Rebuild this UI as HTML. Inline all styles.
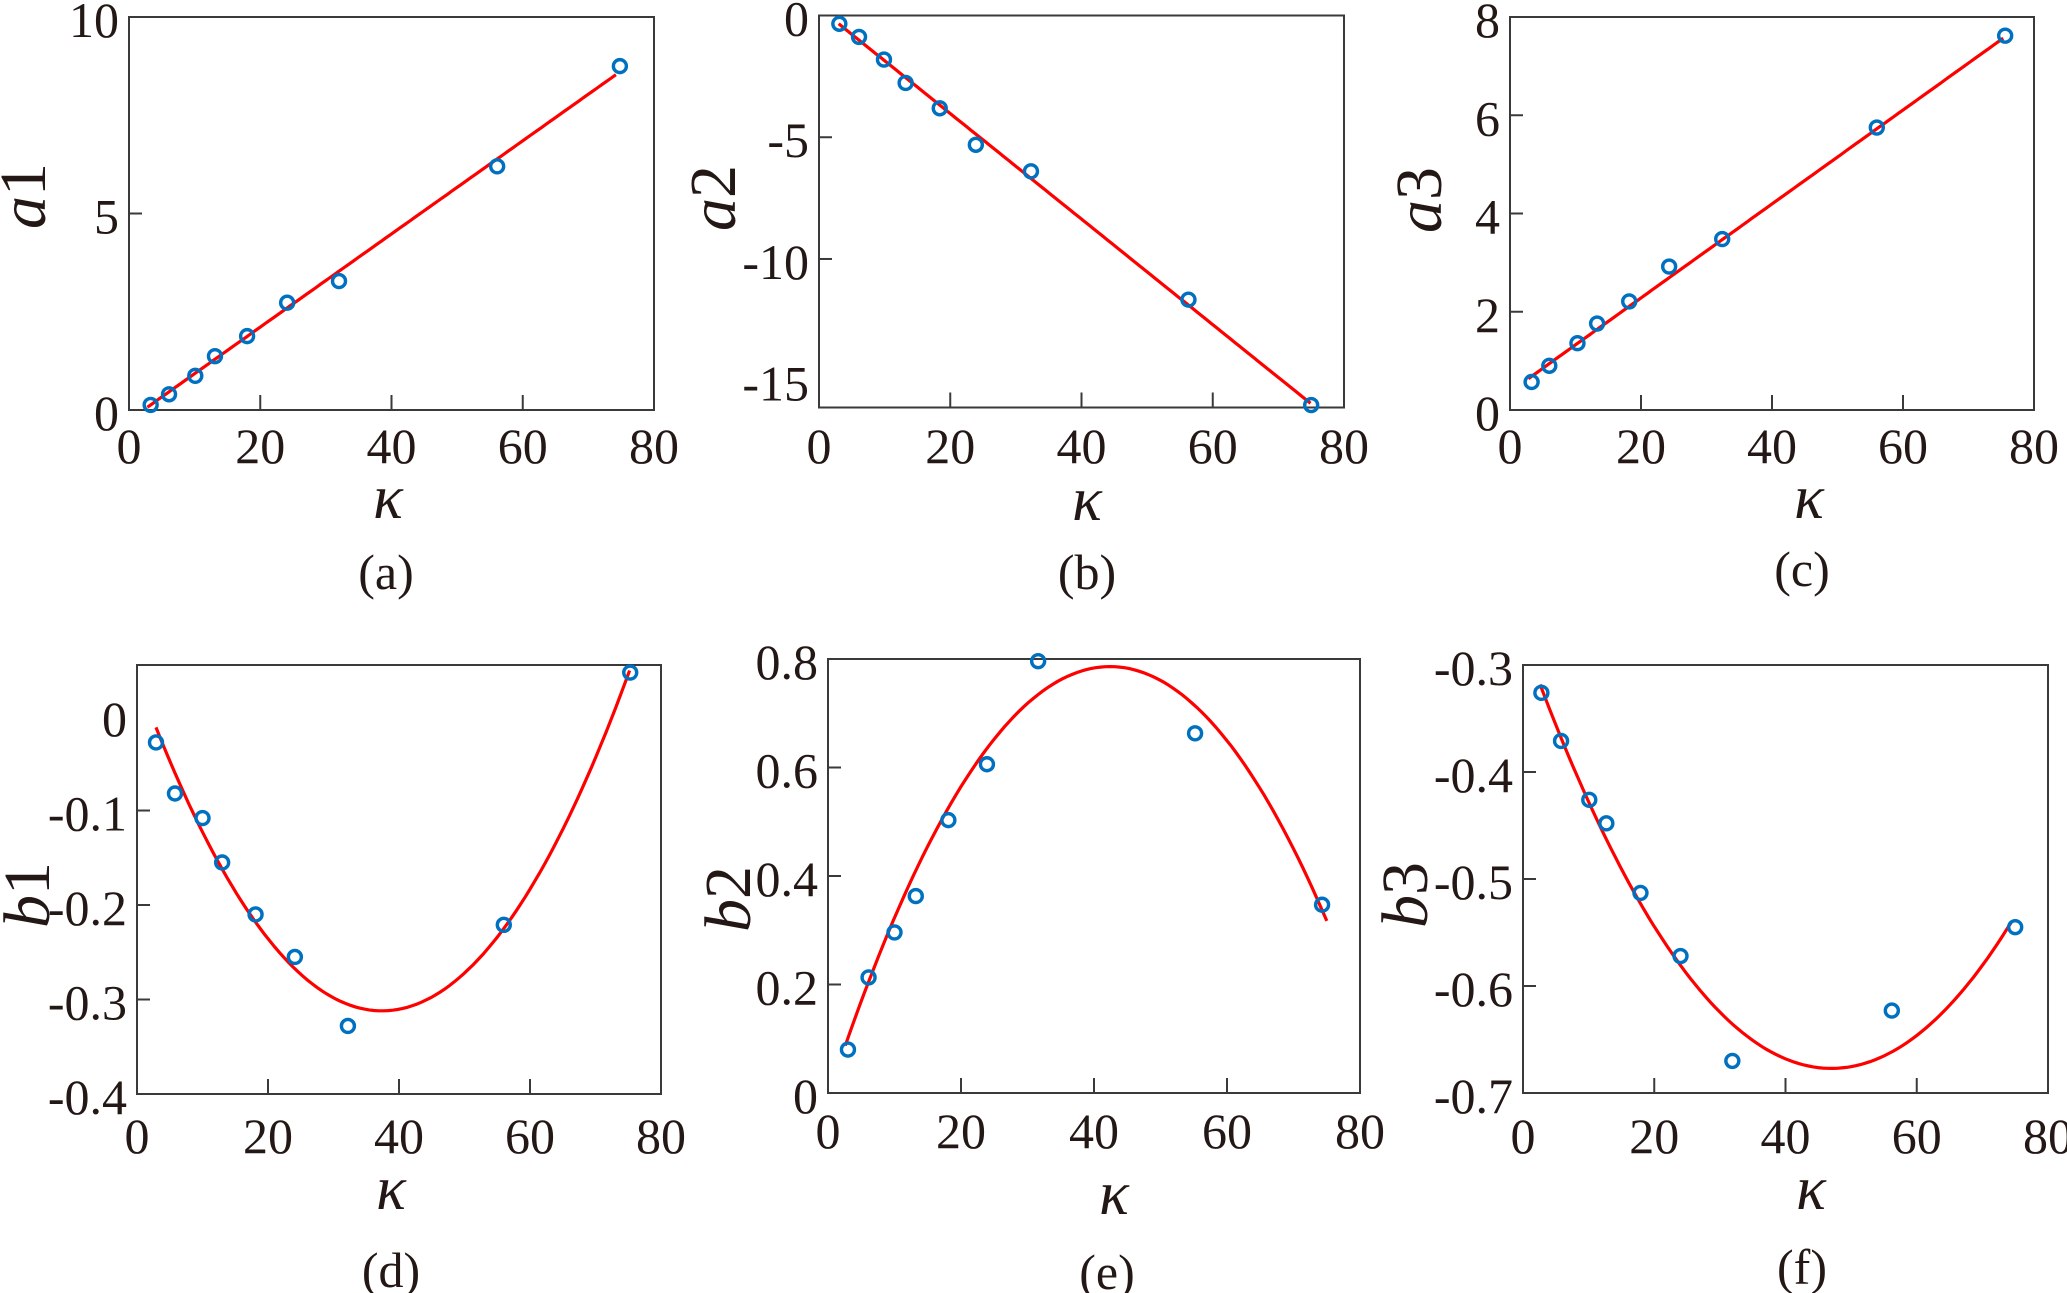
<!DOCTYPE html>
<html><head><meta charset="utf-8"><style>
html,body{margin:0;padding:0;background:#fff;}
svg{display:block;}
text{font-family:"Liberation Serif",serif;fill:#231815;}
</style></head><body>
<svg id="fig" width="2067" height="1293" viewBox="0 0 2067 1293" xmlns="http://www.w3.org/2000/svg"></svg>
<script>
const kappaA1 = [3.3, 6.1, 10.1, 13.1, 18.0, 24.1, 32.0, 56.1, 74.8];
const valuesA1 = [0.13, 0.40, 0.87, 1.37, 1.88, 2.73, 3.28, 6.2, 8.75];
const fitA1 = [-0.26, 0.1185];
const kappaA2 = [3.1, 6.1, 9.9, 13.2, 18.4, 23.9, 32.3, 56.3, 75.0];
const valuesA2 = [-0.34, -0.88, -1.81, -2.77, -3.81, -5.31, -6.40, -11.67, -16.0];
const fitA2 = [0.31, -0.2168];
const kappaA3 = [3.3, 6.0, 10.3, 13.3, 18.2, 24.3, 32.4, 56.0, 75.6];
const valuesA3 = [0.57, 0.90, 1.36, 1.76, 2.21, 2.92, 3.48, 5.75, 7.62];
const fitA3 = [0.37, 0.0956];
const kappaB1 = [2.9, 5.8, 10.0, 13.0, 18.1, 24.1, 32.2, 56.0, 75.3];
const valuesB1 = [-0.028, -0.082, -0.108, -0.155, -0.210, -0.255, -0.328, -0.221, 0.046];
const fitB1 = [-0.312, 37.4, 0.000252];
const kappaB2 = [3.0, 6.1, 10.0, 13.2, 18.1, 23.9, 31.6, 55.2, 74.3];
const valuesB2 = [0.080, 0.213, 0.296, 0.363, 0.503, 0.606, 0.796, 0.663, 0.347];
const fitB2 = [0.786, 42.4, -0.000441];
const kappaB3 = [2.8, 5.8, 10.1, 12.7, 17.9, 24.0, 31.9, 56.2, 75.0];
const valuesB3 = [-0.326, -0.371, -0.426, -0.448, -0.513, -0.572, -0.670, -0.623, -0.545];
const fitB3 = [-0.677, 47.0, 0.000182];
const fitRangeA1 = [2.8, 74.2];
const fitRangeA2 = [3.0, 74.9];
const fitRangeA3 = [2.8, 75.3];
const fitRangeB1 = [2.9, 75.2];
const fitRangeB2 = [2.6, 75.0];
const fitRangeB3 = [2.6, 74.4];
const xTickLabels = ["0", "20", "40", "60", "80"];
const yTicksA1 = [0, 5, 10];
const yTicksA2 = [0, -5, -10, -15];
const yTicksA3 = [0, 2, 4, 6, 8];
const yTicksB1 = [0, -0.1, -0.2, -0.3, -0.4];
const yTicksB2 = [0, 0.2, 0.4, 0.6, 0.8];
const yTicksB3 = [-0.3, -0.4, -0.5, -0.6, -0.7];

const NS = "http://www.w3.org/2000/svg";
const svg = document.getElementById("fig");
function mk(tag, attrs, parent) {
  const e = document.createElementNS(NS, tag);
  for (const k in attrs) e.setAttribute(k, attrs[k]);
  (parent || svg).appendChild(e);
  return e;
}
const panels = [
  {id:"a", L:129, T:17, R:654, B:410, ymin:0, ymax:10, yt:yTicksA1, inner:[5], xs:kappaA1, ys:valuesA1, fit:fitA1, type:"lin", fr:fitRangeA1, lab:"a", sub:"1", lx:-104, ly:196, kx:388, ky:498, px:386, py:572, xly:446},
  {id:"b", L:819, T:15.5, R:1344, B:407.5, ymin:-16.1, ymax:0, yt:yTicksA2, inner:[-5,-10], xs:kappaA2, ys:valuesA2, fit:fitA2, type:"lin", fr:fitRangeA2, lab:"a", sub:"2", lx:-104, ly:198, kx:1087, ky:500, px:1087, py:572, xly:446},
  {id:"c", L:1510, T:17, R:2034, B:410, ymin:0, ymax:8, yt:yTicksA3, inner:[2,4,6], xs:kappaA3, ys:valuesA3, fit:fitA3, type:"lin", fr:fitRangeA3, lab:"a", sub:"3", lx:-89, ly:200, kx:1809, ky:498, px:1802, py:569, xly:446},
  {id:"d", L:137, T:665, R:661, B:1094, ymin:-0.4, ymax:0.054, yt:yTicksB1, inner:[-0.1,-0.2,-0.3], xs:kappaB1, ys:valuesB1, fit:fitB1, type:"quad", fr:fitRangeB1, lab:"b", sub:"1", lx:-108, ly:895, kx:391, ky:1189, px:391, py:1270, xly:1136},
  {id:"e", L:828, T:659, R:1360, B:1093, ymin:0, ymax:0.8, yt:yTicksB2, inner:[0.2,0.4,0.6], xs:kappaB2, ys:valuesB2, fit:fitB2, type:"quad", fr:fitRangeB2, lab:"b", sub:"2", lx:-98, ly:899, kx:1114, ky:1194, px:1107, py:1272, xly:1131},
  {id:"f", L:1523, T:665, R:2048, B:1093, ymin:-0.7, ymax:-0.3, yt:yTicksB3, inner:[-0.4,-0.5,-0.6], xs:kappaB3, ys:valuesB3, fit:fitB3, type:"quad", fr:fitRangeB3, lab:"b", sub:"3", lx:-116, ly:895, kx:1811, ky:1189, px:1802, py:1267, xly:1136}
];
panels.forEach(p => {
  const g = mk("g", {});
  
  
  const X = v => p.L + (v - 0) / 80 * (p.R - p.L);
  const Y = v => p.B - (v - p.ymin) / (p.ymax - p.ymin) * (p.B - p.T);
  const box = mk("rect", {x:p.L, y:p.T, width:p.R-p.L, height:p.B-p.T, fill:"none", stroke:"#3a3a3a", "stroke-width":2}, g);
  
  
  [20,40,60].forEach(t => {
    const tk = mk("line", {x1:X(t), x2:X(t), y1:p.B, y2:p.B-15, stroke:"#3a3a3a", "stroke-width":2}, g);
    
    
  });
  p.inner.forEach(t => {
    const tk = mk("line", {x1:p.L, x2:p.L+13, y1:Y(t), y2:Y(t), stroke:"#3a3a3a", "stroke-width":2}, g);
    
    
  });
  xTickLabels.forEach(s => {
    const t = mk("text", {x:X(+s), y:p.xly+17, "font-size":50, "text-anchor":"middle"}, g);
    t.textContent = s;
    
    
  });
  p.yt.forEach(v => {
    const t = mk("text", {x:p.L-10, y:Y(v)+20, "font-size":50, "text-anchor":"end"}, g);
    t.textContent = String(v);
    
    
  });
  const f = x => p.type === "lin" ? p.fit[0] + p.fit[1]*x : p.fit[0] + p.fit[2]*(x-p.fit[1])*(x-p.fit[1]);
  let d = "";
  for (let i = 0; i <= 100; i++) {
    const x = p.fr[0] + (p.fr[1]-p.fr[0]) * i / 100;
    d += (i ? "L" : "M") + X(x).toFixed(1) + "," + Y(f(x)).toFixed(1);
  }
  const path = mk("path", {d:d, fill:"none", stroke:"#ff0000", "stroke-width":3.2}, g);
  
  
  p.xs.forEach((x, i) => {
    const c = mk("circle", {cx:X(x), cy:Y(p.ys[i]), r:6.5, fill:"none", stroke:"#0070c0", "stroke-width":3.4}, g);
    
    
  });
  const yl = mk("text", {x:0, y:0, "font-size":66, "text-anchor":"middle", transform:"translate(" + (p.L+p.lx+20) + "," + p.ly + ") rotate(-90)"}, g);
  
  
  const ts1 = mk("tspan", {"font-style":"italic"}, yl); ts1.textContent = p.lab;
  const ts2 = mk("tspan", {}, yl); ts2.textContent = p.sub;
  const kl = mk("text", {x:p.kx, y:p.ky+20, "font-size":62, "font-style":"italic", "text-anchor":"middle"}, g);
  kl.textContent = "κ";
  
  
  const pl = mk("text", {x:p.px, y:p.py+17, "font-size":50, "text-anchor":"middle"}, g);
  pl.textContent = "(" + p.id + ")";
  
  
});
</script>
</body></html>
